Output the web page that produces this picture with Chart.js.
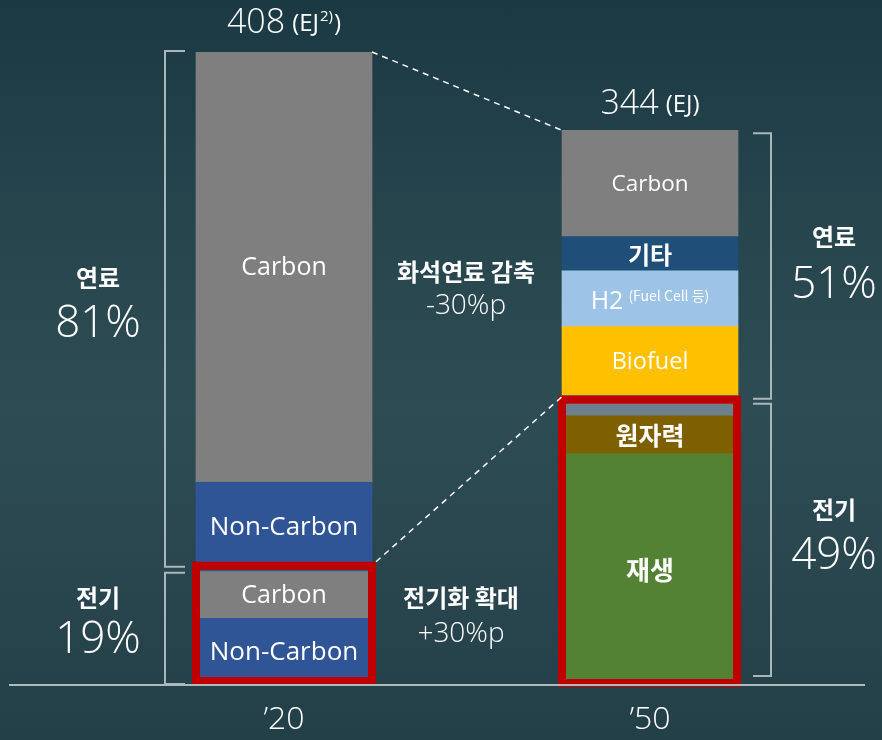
<!DOCTYPE html>
<html>
<head>
<meta charset="utf-8">
<script src="https://cdn.jsdelivr.net/npm/chart.js@4.4.1/dist/chart.umd.min.js"></script>
<style>
html,body{margin:0;padding:0;width:882px;height:740px;overflow:hidden;
background:linear-gradient(180deg,#1b3943 0%,#26454d 30%,#2e4c53 55%,#2a474f 75%,#233f48 100%);}
canvas{display:block;}
</style>
</head>
<body>
<canvas id="c" width="882" height="740"></canvas>
<script>
// ---- data (EJ) ----
const categories = ['\u201920', '\u201950'];
const totalLabels = ['408', '344'];
const unitLabels = [['(EJ', '2)', ')'], ['(EJ)', '', '']];
const elecNonCarbon = [43, 0];
const elecCarbon = [30, 0];
const renewable = [0, 149];
const nuclear = [0, 24.5];
const elecOther = [0, 13];
const fuelNonCarbon = [58, 0];
const biofuel = [0, 44.5];
const hydrogen = [0, 36];
const fuelOther = [0, 22];
const fuelCarbon = [277, 68.5];
const fuelShare = ['81%', '51%'];
const elecShare = ['19%', '49%'];
const changeNotes = [['화석연료 감축', '-30%p'], ['전기화 확대', '+30%p']];

const KR = '"Noto Sans CJK KR", "Noto Sans", sans-serif';
const LAT = '"Open Sans", "Noto Sans", sans-serif';

const series = [
  {label:'전기 Non-Carbon', data: elecNonCarbon, color:'#2F5597', text:['Non-Carbon',''], bold:false, size:[26,0]},
  {label:'전기 Carbon', data: elecCarbon, color:'#7F7F7F', text:['Carbon',''], bold:false, size:[25,0]},
  {label:'재생', data: renewable, color:'#548235', text:['','재생'], bold:true, size:[0,26]},
  {label:'원자력', data: nuclear, color:'#7F6000', text:['','원자력'], bold:true, size:[0,25]},
  {label:'전기 기타', data: elecOther, color:'#6B7F8C', text:['',''], bold:false, size:[0,0]},
  {label:'연료 Non-Carbon', data: fuelNonCarbon, color:'#2F5597', text:['Non-Carbon',''], bold:false, size:[26,0]},
  {label:'Biofuel', data: biofuel, color:'#FFC000', text:['','Biofuel'], bold:false, size:[0,23.5]},
  {label:'H2', data: hydrogen, color:'#9DC3E6', text:['','H2'], bold:false, size:[0,25]},
  {label:'기타', data: fuelOther, color:'#1F4E79', text:['','기타'], bold:true, size:[0,24]},
  {label:'연료 Carbon', data: fuelCarbon, color:'#7F7F7F', text:['Carbon','Carbon'], bold:false, size:[25,22.5]}
];
const ELEC_COUNT = 5;

const overlay = {
  id:'overlay',
  afterDatasetsDraw(chart){
    const ctx = chart.ctx;
    const y = chart.scales.y;
    const base = y.getPixelForValue(0);
    const bars = categories.map((c,j)=>{
      const m = chart.getDatasetMeta(0).data[j];
      return {cx:m.x, w:176, l:m.x-88, r:m.x+88};
    });
    const total = j => series.reduce((s,d)=>s+d.data[j],0);
    const elecTotal = j => series.slice(0,ELEC_COUNT).reduce((s,d)=>s+d.data[j],0);

    ctx.save();
    // segment labels
    ctx.textAlign='center'; ctx.textBaseline='middle'; ctx.fillStyle='#ffffff';
    series.forEach((s,i)=>{
      const meta = chart.getDatasetMeta(i);
      meta.data.forEach((el,j)=>{
        const t = s.text[j];
        if(!t || !s.data[j]) return;
        const cy = (el.y + el.base)/2;
        if(t==='H2'){
          ctx.font = `25px ${LAT}`;
          const w1 = ctx.measureText('H2').width;
          ctx.font = `14px ${KR}`;
          const w2 = ctx.measureText('(Fuel Cell 등)').width;
          const start = el.x - (w1+5+w2)/2;
          ctx.textAlign='left';
          ctx.font = `25px ${LAT}`;
          ctx.fillText('H2', start, cy+3);
          ctx.font = `14px ${KR}`;
          ctx.fillText('(Fuel Cell 등)', start+w1+5, cy-3);
          ctx.textAlign='center';
          return;
        }
        ctx.font = `${s.bold?'bold ':''}${s.size[j]}px ${s.bold?KR:LAT}`;
        ctx.fillText(t, el.x, cy+1);
      });
    });

    // red boxes around electricity
    ctx.strokeStyle='#C00000'; ctx.lineWidth=8;
    const eTop0 = y.getPixelForValue(elecTotal(0));
    ctx.strokeRect(bars[0].l, eTop0-6, bars[0].w, base-4-(eTop0-6));
    const eTop1 = y.getPixelForValue(elecTotal(1));
    ctx.strokeRect(bars[1].l, eTop1+4, bars[1].w-1, base-2-(eTop1+4));

    // dashed connectors
    ctx.strokeStyle='#ffffff'; ctx.lineWidth=1.5; ctx.setLineDash([6,5]);
    ctx.beginPath();
    ctx.moveTo(bars[0].r, y.getPixelForValue(total(0)));
    ctx.lineTo(bars[1].l, y.getPixelForValue(total(1)));
    ctx.moveTo(bars[0].r+4, eTop0-10);
    ctx.lineTo(bars[1].l, eTop1+1);
    ctx.stroke();
    ctx.setLineDash([]);

    // axis line
    ctx.strokeStyle='#AEBBBE'; ctx.lineWidth=2;
    ctx.beginPath(); ctx.moveTo(9, base); ctx.lineTo(865, base); ctx.stroke();

    // brackets
    ctx.strokeStyle='#A9B6BA'; ctx.lineWidth=2;
    const lb = bars[0].l-31;
    const lTop = y.getPixelForValue(total(0))-1;
    ctx.beginPath();
    ctx.moveTo(lb+20, lTop); ctx.lineTo(lb, lTop); ctx.lineTo(lb, eTop0-5); ctx.lineTo(lb+20, eTop0-5);
    ctx.moveTo(lb+20, eTop0+1); ctx.lineTo(lb, eTop0+1); ctx.lineTo(lb, base-1); ctx.lineTo(lb+20, base-1);
    const rb = bars[1].r+33;
    const rTop = y.getPixelForValue(total(1))+3;
    ctx.moveTo(rb-18, rTop); ctx.lineTo(rb, rTop); ctx.lineTo(rb, eTop1+3); ctx.lineTo(rb-18, eTop1+3);
    ctx.moveTo(rb-18, eTop1+8); ctx.lineTo(rb, eTop1+8); ctx.lineTo(rb, base-9); ctx.lineTo(rb-18, base-9);
    ctx.stroke();

    // totals above bars
    ctx.fillStyle='#ffffff'; ctx.textBaseline='alphabetic'; ctx.textAlign='left';
    categories.forEach((c,j)=>{
      const topY = y.getPixelForValue(total(j));
      const u = unitLabels[j];
      ctx.font = `300 34px ${LAT}`;
      const w1 = ctx.measureText(totalLabels[j]).width;
      ctx.font = `24px ${LAT}`;
      const wa = ctx.measureText(u[0]).width;
      const wc = ctx.measureText(u[2]).width;
      ctx.font = `15px ${LAT}`;
      const wb = ctx.measureText(u[1]).width;
      const full = w1+7+wa+wb+wc+(u[1]?2:0);
      const st = bars[j].cx - full/2;
      const by = j===0 ? 33 : topY-16;
      ctx.font = `300 34px ${LAT}`; ctx.fillText(totalLabels[j], st, by);
      let px = st+w1+7;
      ctx.font = `24px ${LAT}`; ctx.fillText(u[0], px, by-2); px += wa+1;
      if(u[1]){ ctx.font = `15px ${LAT}`; ctx.fillText(u[1], px, by-12); px += wb+1; }
      if(u[2]){ ctx.font = `24px ${LAT}`; ctx.fillText(u[2], px, by-2); }
    });

    // category labels
    ctx.textAlign='center'; ctx.textBaseline='middle';
    ctx.font = `300 32px ${LAT}`;
    categories.forEach((c,j)=>ctx.fillText(c, bars[j].cx, 720));

    // share labels
    const sideX = [98, 834];
    const fuelY = [[278, 324],[237, 285]];
    const elecY = [[598, 640],[510, 556]];
    categories.forEach((c,j)=>{
      ctx.font = `bold 24px ${KR}`;
      ctx.fillText('연료', sideX[j], fuelY[j][0]);
      ctx.fillText('전기', sideX[j], elecY[j][0]);
      ctx.font = `300 44px ${LAT}`;
      ctx.fillText(fuelShare[j], sideX[j], fuelY[j][1]);
      ctx.fillText(elecShare[j], sideX[j], elecY[j][1]);
    });

    // change notes
    const noteX = [466, 461];
    const noteY = [[272, 306],[598, 634]];
    changeNotes.forEach((n,k)=>{
      ctx.font = `bold 24px ${KR}`;
      ctx.fillText(n[0], noteX[k], noteY[k][0]);
      ctx.font = `300 28px ${LAT}`;
      ctx.fillText(n[1], noteX[k], noteY[k][1]);
    });
    ctx.restore();
  }
};

new Chart(document.getElementById('c'), {
  type:'bar',
  data:{
    labels: categories,
    datasets: series.map(s=>({
      label:s.label, data:s.data, backgroundColor:s.color, borderWidth:0,
      barThickness:176, stack:'s'
    }))
  },
  options:{
    responsive:false, animation:false, devicePixelRatio:1,
    layout:{padding:{top:52,bottom:55,left:101,right:49}},
    plugins:{legend:{display:false}, tooltip:{enabled:false}},
    scales:{
      x:{display:false, stacked:true},
      y:{display:false, stacked:true, min:0, max:408}
    }
  },
  plugins:[overlay]
});
</script>
</body>
</html>
